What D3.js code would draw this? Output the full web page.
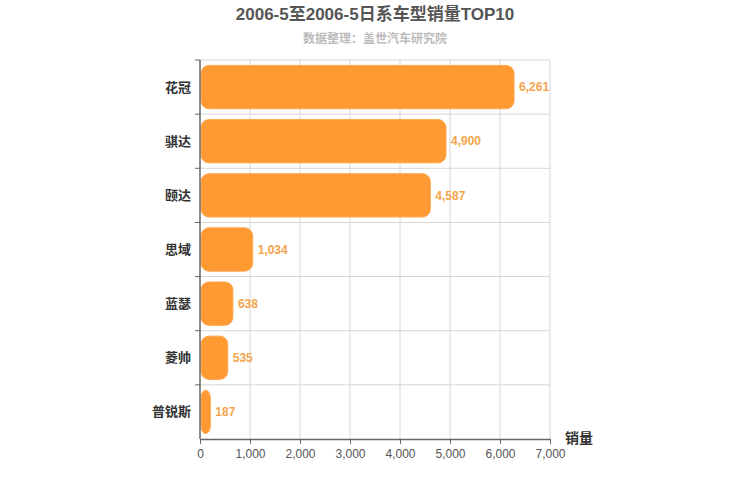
<!DOCTYPE html>
<html>
<head>
<meta charset="utf-8">
<script src="https://cdn.jsdelivr.net/npm/d3@7"></script>
<style>
  body { margin: 0; background: #fff; }
  svg { font-family: "Liberation Sans", "Noto Sans CJK SC", sans-serif; }
</style>
</head>
<body>
<svg id="chart" width="750" height="500"></svg>
<script>
// Chart data
const models = ['花冠', '骐达', '颐达', '思域', '蓝瑟', '菱帅', '普锐斯'];
const sales = [6261, 4900, 4587, 1034, 638, 535, 187];
const xTicks = [0, 1000, 2000, 3000, 4000, 5000, 6000, 7000];

const svg = d3.select('#chart');
const margin = { top: 60, right: 200, bottom: 61, left: 200 };
const width = 750 - margin.left - margin.right;
const height = 500 - margin.top - margin.bottom;

// Title + subtitle
svg.append('text')
    .attr('x', 375).attr('y', 20)
    .attr('text-anchor', 'middle')
    .attr('font-size', '17px')
    .attr('font-weight', 'bold')
    .attr('fill', '#555')
    .text('2006-5至2006-5日系车型销量TOP10');

svg.append('text')
    .attr('x', 375).attr('y', 43)
    .attr('text-anchor', 'middle')
    .attr('font-size', '12px')
    .attr('font-weight', 'bold')
    .attr('fill', '#bbb')
    .text('数据整理：盖世汽车研究院');

const g = svg.append('g').attr('transform', `translate(${margin.left},${margin.top})`);

const x = d3.scaleLinear().domain([0, 7000]).range([0, width]);
const y = d3.scaleBand().domain(models).range([0, height]).paddingInner(0.2).paddingOuter(0.1);
const yBounds = d3.scaleBand().domain(models).range([0, height]);

// Grid: vertical lines at x ticks
g.selectAll('.vgrid')
    .data(xTicks.slice(1))
    .enter().append('line')
    .attr('x1', d => x(d)).attr('x2', d => x(d))
    .attr('y1', 0).attr('y2', height)
    .attr('stroke', '#d6d6d6');

// Grid: horizontal lines at category boundaries
g.selectAll('.hgrid')
    .data(models)
    .enter().append('line')
    .attr('x1', 0).attr('x2', width)
    .attr('y1', d => yBounds(d)).attr('y2', d => yBounds(d))
    .attr('stroke', '#d6d6d6');

// Bars
g.selectAll('.bar')
    .data(models)
    .enter().append('rect')
    .attr('x', 1)
    .attr('y', d => y(d))
    .attr('width', (d, i) => x(sales[i]))
    .attr('height', y.bandwidth())
    .attr('rx', 8)
    .attr('fill', '#ff9a33')
    .attr('stroke', '#ffa64d')
    .attr('stroke-width', 1);

// Value labels
g.selectAll('.val')
    .data(models)
    .enter().append('text')
    .attr('x', (d, i) => x(sales[i]) + 6)
    .attr('y', d => y(d) + y.bandwidth() / 2)
    .attr('dy', '0.35em')
    .attr('font-size', '12px')
    .attr('font-weight', 'bold')
    .attr('fill', '#f4a54c')
    .text((d, i) => d3.format(',')(sales[i]));

// Y axis: line, ticks at band boundaries, category labels
g.append('line')
    .attr('x1', 0).attr('x2', 0)
    .attr('y1', 0).attr('y2', height)
    .attr('stroke', '#666').attr('stroke-width', 1.5);

g.selectAll('.ytick')
    .data(models.slice(1))
    .enter().append('line')
    .attr('x1', -5).attr('x2', 0)
    .attr('y1', d => yBounds(d)).attr('y2', d => yBounds(d))
    .attr('stroke', '#666');

g.append('line')
    .attr('x1', -5).attr('x2', 0)
    .attr('y1', 0).attr('y2', 0)
    .attr('stroke', '#666');

g.selectAll('.ylabel')
    .data(models)
    .enter().append('text')
    .attr('x', -9)
    .attr('y', d => yBounds(d) + yBounds.bandwidth() / 2)
    .attr('dy', '0.35em')
    .attr('text-anchor', 'end')
    .attr('font-size', '13px')
    .attr('font-weight', 'bold')
    .attr('fill', '#333')
    .text(d => d);

// X axis
const xAxis = g.append('g')
    .attr('transform', `translate(0,${height})`)
    .call(d3.axisBottom(x).tickValues(xTicks).tickFormat(d3.format(',')).tickSize(5).tickSizeOuter(0));

xAxis.select('.domain').attr('stroke', '#666').attr('stroke-width', 1.5);
xAxis.selectAll('.tick line').attr('stroke', '#666');
xAxis.selectAll('.tick text')
    .attr('fill', '#555')
    .attr('font-size', '12px')
    .attr('font-family', '"Liberation Sans", sans-serif')
    .attr('dy', '0.9em');

// Axis title
svg.append('text')
    .attr('x', 565).attr('y', 443)
    .attr('font-size', '14px')
    .attr('font-weight', 'bold')
    .attr('fill', '#333')
    .text('销量');
</script>
</body>
</html>
